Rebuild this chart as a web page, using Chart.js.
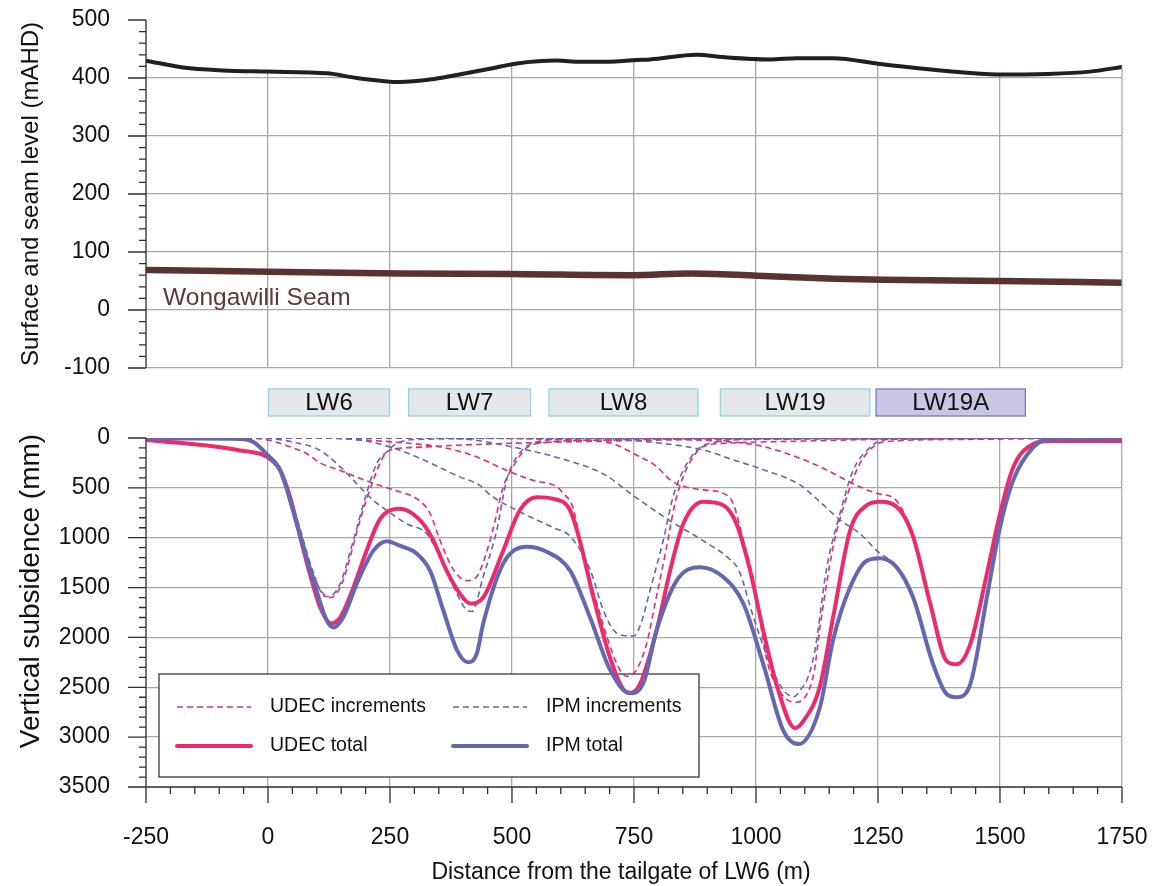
<!DOCTYPE html>
<html>
<head>
<meta charset="utf-8">
<title>Surface level and subsidence profile</title>
<script src="https://cdn.jsdelivr.net/npm/chart.js@4.4.1/dist/chart.umd.min.js"></script>
<style>
  html, body { margin: 0; padding: 0; background: #fff; }
  #wrap { position: relative; width: 1156px; height: 886px; }
  canvas { position: absolute; left: 0; }
  #levels { top: 0; }
  #subsidence { top: 378px; }
</style>
</head>
<body>
<div id="wrap">
  <canvas id="levels" width="1156" height="378"></canvas>
  <canvas id="subsidence" width="1156" height="508"></canvas>
</div>
<script>
// [distance from LW6 tailgate (m), level (mAHD)]
const surfaceLevel = [[-250,430],[-174,418],[-92,413],[0,411],[121,408],[182,400],[270,393],[338,398],[373,403],[455,416],[510,425],[592,430],[639,428],[694,428],[756,431],[783,432],[879,440],[932,436],[1029,432],[1084,434],[1158,434],[1254,424],[1391,412],[1494,406],[1596,407],[1684,411],[1750,419]];
const seamLevel = [[-250,69],[0,66],[270,63],[500,62],[746,60],[865,63],[1003,59],[1162,54],[1260,52],[1498,50],[1750,47]];

// [distance (m), vertical subsidence (mm)]
const udecTotal = [[-250,20],[-126,75],[-57,125],[0,195],[25,325],[45,590],[66,995],[86,1365],[107,1700],[130,1860],[148,1800],[175,1500],[202,1130],[230,810],[270,710],[318,860],[339,1030],[366,1330],[393,1560],[414,1660],[441,1600],[482,1130],[516,725],[551,595],[585,610],[619,725],[639,1030],[667,1600],[701,2205],[728,2520],[742,2555],[762,2470],[796,1935],[824,1330],[851,860],[892,640],[933,675],[960,860],[988,1330],[1015,1935],[1042,2470],[1080,2910],[1097,2840],[1131,2490],[1158,1800],[1193,925],[1227,675],[1254,640],[1295,725],[1322,990],[1357,1660],[1391,2240],[1411,2270],[1439,2070],[1473,1365],[1500,760],[1527,295],[1568,60],[1602,30],[1650,30],[1750,30]];
const ipmTotal = [[-250,5],[-150,5],[-57,10],[-30,40],[0,175],[25,325],[59,860],[93,1425],[120,1825],[134,1900],[154,1800],[182,1460],[216,1130],[243,1035],[270,1080],[305,1160],[332,1330],[359,1725],[387,2125],[410,2250],[428,2160],[441,1860],[482,1260],[530,1090],[571,1140],[619,1330],[660,1800],[701,2325],[742,2560],[769,2460],[796,1935],[838,1425],[885,1295],[933,1395],[974,1660],[1015,2270],[1056,2935],[1087,3070],[1131,2700],[1158,2025],[1193,1495],[1227,1230],[1254,1205],[1288,1295],[1322,1600],[1363,2270],[1391,2570],[1411,2600],[1439,2470],[1473,1600],[1500,895],[1527,425],[1568,95],[1602,10],[1750,5]];

const udecLW6 = [[-250,20],[-126,75],[-57,125],[0,190],[25,315],[45,560],[66,940],[86,1280],[107,1520],[127,1600],[148,1500],[161,1320],[189,820],[216,420],[236,190],[250,120],[300,95],[400,70],[600,40],[900,15],[1300,5],[1750,0]];
const udecLW7 = [[-250,0],[-50,0],[0,20],[40,80],[79,155],[107,250],[148,325],[216,455],[270,540],[305,610],[332,755],[352,1020],[380,1320],[408,1430],[428,1390],[441,1250],[461,920],[482,490],[502,290],[530,100],[560,50],[700,20],[1000,5],[1750,0]];
const udecLW8 = [[-250,0],[100,0],[180,15],[256,40],[352,90],[420,175],[489,325],[543,425],[592,490],[605,555],[625,700],[646,1190],[674,1660],[701,2090],[721,2325],[735,2390],[755,2325],[776,2060],[796,1590],[817,1090],[834,655],[851,385],[872,185],[892,85],[950,50],[1100,30],[1300,10],[1750,0]];
const udecLW19 = [[-250,0],[400,0],[550,10],[639,25],[701,50],[755,170],[796,285],[824,420],[851,485],[892,520],[933,555],[953,655],[974,1025],[995,1425],[1022,2220],[1042,2490],[1063,2620],[1083,2650],[1104,2570],[1119,2350],[1131,1900],[1158,1095],[1186,590],[1213,255],[1240,90],[1260,40],[1400,15],[1750,0]];
const udecLW19A = [[-250,0],[700,0],[800,5],[900,25],[1000,70],[1080,185],[1145,320],[1189,435],[1247,555],[1283,605],[1300,720],[1322,990],[1357,1660],[1391,2240],[1411,2270],[1439,2070],[1473,1365],[1500,760],[1527,295],[1568,60],[1602,30],[1750,30]];

const ipmLW6 = [[-250,5],[-150,5],[-57,10],[-30,40],[0,170],[25,310],[59,800],[93,1350],[117,1590],[133,1570],[148,1460],[175,1025],[202,555],[223,255],[243,140],[264,55],[300,15],[500,5],[1750,0]];
const ipmLW7 = [[-250,0],[-50,0],[0,5],[50,40],[107,125],[148,290],[216,625],[243,725],[284,860],[325,960],[352,1190],[380,1490],[407,1725],[418,1740],[441,1390],[469,920],[489,420],[510,190],[543,50],[600,15],[800,5],[1750,0]];
const ipmLW8 = [[-250,0],[100,0],[200,30],[256,100],[305,190],[393,390],[434,475],[455,570],[516,740],[585,900],[619,985],[660,1320],[687,1725],[708,1925],[728,1980],[750,1985],[765,1850],[783,1525],[810,1025],[830,590],[851,325],[878,125],[900,60],[1000,15],[1750,0]];
const ipmLW19 = [[-250,0],[300,0],[400,10],[530,120],[585,185],[687,360],[755,600],[824,830],[895,1040],[940,1190],[965,1330],[995,1800],[1029,2270],[1055,2520],[1077,2595],[1092,2520],[1105,2420],[1120,2150],[1145,1300],[1172,760],[1199,325],[1227,125],[1257,25],[1300,10],[1750,0]];
const ipmLW19A = [[-250,0],[600,0],[700,10],[800,50],[892,120],[960,230],[1010,310],[1090,470],[1131,640],[1172,820],[1213,960],[1250,1140],[1288,1290],[1322,1600],[1363,2270],[1391,2570],[1411,2600],[1439,2470],[1473,1600],[1500,895],[1527,425],[1568,95],[1602,10],[1750,5]];

// longwall panel extents (m)
const panelNames = ['LW6', 'LW7', 'LW8', 'LW19', 'LW19A'];
const panelStart = [1, 288, 576, 927, 1246];
const panelEnd = [249, 538, 881, 1233, 1552];

const legendLabels = ['UDEC increments', 'IPM increments', 'UDEC total', 'IPM total'];

const UDEC = '#ee2a6b';
const IPM = '#6467b1';
const GRID = '#a8a8a8';
const AXIS = '#2e2e2e';
const CLEAR = 'rgba(0,0,0,0)';
const TEXT = '#111';
const FONT = '"Liberation Sans", Arial, sans-serif';

Chart.defaults.font.family = FONT;
Chart.defaults.color = TEXT;

const pts = arr => arr.map(([x, y]) => ({x, y}));

// tick marks and axis lines, drawn last so the white fill above the surface can't hide them
const axisMarks = {
  id: 'axisMarks',
  afterDraw(chart, args, opts) {
    const {ctx, chartArea: ca, scales: {x, y}} = chart;
    ctx.save();
    ctx.strokeStyle = AXIS;
    ctx.lineWidth = 1.3;
    ctx.beginPath();
    ctx.moveTo(ca.left, ca.top);
    ctx.lineTo(ca.left, ca.bottom);
    for (let v = y.min; v <= y.max; v += opts.yMinor) {
      const py = y.getPixelForValue(v);
      const len = v % opts.yMajor === 0 ? 18 : 7;
      ctx.moveTo(ca.left - len, py);
      ctx.lineTo(ca.left, py);
    }
    if (opts.xMinor) {
      ctx.moveTo(ca.left, ca.bottom);
      ctx.lineTo(ca.right, ca.bottom);
      for (let v = x.min; v <= x.max; v += opts.xMinor) {
        const px = x.getPixelForValue(v);
        const len = v % opts.xMajor === 0 ? 16 : 7;
        ctx.moveTo(px, ca.bottom);
        ctx.lineTo(px, ca.bottom + len);
      }
    }
    ctx.stroke();
    ctx.restore();
  }
};

// right frame edge below the ground surface, plus the seam name
const levelsExtras = {
  id: 'levelsExtras',
  afterDatasetsDraw(chart) {
    const {ctx, chartArea: ca, scales: {x, y}} = chart;
    const last = surfaceLevel[surfaceLevel.length - 1];
    ctx.save();
    ctx.strokeStyle = GRID;
    ctx.lineWidth = 1.3;
    ctx.beginPath();
    ctx.moveTo(ca.right, y.getPixelForValue(last[1]));
    ctx.lineTo(ca.right, ca.bottom);
    ctx.stroke();
    ctx.font = '24.5px ' + FONT;
    ctx.fillStyle = '#5d3838';
    ctx.textBaseline = 'middle';
    ctx.fillText('Wongawilli Seam', x.getPixelForValue(-215), y.getPixelForValue(20));
    ctx.restore();
  }
};

// panel name boxes above the plot and the two axis titles
const frameText = {
  id: 'frameText',
  afterDraw(chart) {
    const {ctx, chartArea: ca, scales: {x}} = chart;
    const top = ca.top - 49, h = 27;
    ctx.save();
    ctx.font = '24px ' + FONT;
    ctx.textAlign = 'center';
    ctx.textBaseline = 'middle';
    ctx.lineWidth = 1.3;
    panelNames.forEach((name, i) => {
      const x0 = x.getPixelForValue(panelStart[i]);
      const x1 = x.getPixelForValue(panelEnd[i]);
      const active = name === 'LW19A';
      ctx.fillStyle = active ? '#c9c6e3' : '#e6e7e8';
      ctx.strokeStyle = active ? '#7c7abd' : '#8fd5e0';
      ctx.fillRect(x0, top, x1 - x0, h);
      ctx.strokeRect(x0, top, x1 - x0, h);
      ctx.fillStyle = TEXT;
      ctx.fillText(name, (x0 + x1) / 2, top + h / 2 + 1);
    });
    ctx.font = '23px ' + FONT;
    ctx.fillText('Distance from the tailgate of LW6 (m)', 621, ca.bottom + 86);
    ctx.translate(31, ca.top + 153);
    ctx.rotate(-Math.PI / 2);
    ctx.font = '28px ' + FONT;
    ctx.fillText('Vertical subsidence (mm)', 0, 0);
    ctx.restore();
  }
};

const legendBox = {
  id: 'legendBox',
  beforeDatasetsDraw(chart) {
    const {ctx, chartArea: ca} = chart;
    const x0 = ca.left + 13, y0 = ca.top + 236, w = 540, h = 103;
    ctx.save();
    ctx.fillStyle = '#fff';
    ctx.fillRect(x0, y0, w, h);
    ctx.strokeStyle = '#3a3a3a';
    ctx.lineWidth = 1.3;
    ctx.strokeRect(x0, y0, w, h);
    const items = [
      {color: UDEC, dash: [6, 4], width: 1.6, col: 0, row: 0},
      {color: IPM, dash: [6, 4], width: 1.6, col: 1, row: 0},
      {color: UDEC, dash: [], width: 4, col: 0, row: 1},
      {color: IPM, dash: [], width: 4, col: 1, row: 1}
    ];
    ctx.font = '19.5px ' + FONT;
    ctx.textBaseline = 'middle';
    items.forEach((it, i) => {
      const lx = x0 + 18 + it.col * 276;
      const ly = y0 + 33 + it.row * 39;
      ctx.beginPath();
      ctx.setLineDash(it.dash);
      ctx.strokeStyle = it.color;
      ctx.lineWidth = it.width;
      ctx.lineCap = it.dash.length ? 'butt' : 'round';
      ctx.moveTo(lx, ly);
      ctx.lineTo(lx + 74, ly);
      ctx.stroke();
      ctx.setLineDash([]);
      ctx.fillStyle = TEXT;
      ctx.fillText(legendLabels[i], lx + 93, ly);
    });
    ctx.restore();
  }
};

const xScale = (withTicks) => ({
  type: 'linear',
  min: -250,
  max: 1750,
  grid: {
    color: ctx => {
      const v = ctx.tick && ctx.tick.value;
      return v === -250 || (!withTicks && v === 1750) ? CLEAR : GRID;
    },
    lineWidth: 1.3,
    drawTicks: false
  },
  border: {display: false},
  ticks: {
    display: withTicks,
    stepSize: 250,
    autoSkip: false,
    maxRotation: 0,
    padding: 37,
    font: {size: 23},
    callback: v => String(v)
  },
  afterFit: s => {
    s.height = withTicks ? 99 : 0;
    s.paddingLeft = 0;
    s.paddingRight = 0;
  }
});

const yFit = s => {
  s.width = 146;
  s.paddingTop = 0;
  s.paddingBottom = 0;
};

const line = (data, color, width, dash) => ({
  data: pts(data),
  borderColor: color,
  borderWidth: width,
  borderDash: dash,
  pointRadius: 0,
  cubicInterpolationMode: 'monotone',
  fill: false
});

// surface and seam levels
new Chart(document.getElementById('levels'), {
  type: 'line',
  data: {
    datasets: [
      {...line(surfaceLevel, '#231f20', 4, []), fill: 'end', backgroundColor: '#ffffff'},
      line(seamLevel, '#5b3232', 6.5, [])
    ]
  },
  options: {
    responsive: false,
    animation: false,
    layout: {padding: {left: 0, right: 34, top: 20, bottom: 10}},
    plugins: {
      legend: {display: false},
      tooltip: {enabled: false},
      axisMarks: {yMajor: 100, yMinor: 20}
    },
    scales: {
      x: xScale(false),
      y: {
        min: -100,
        max: 500,
        grid: {
          color: ctx => ctx.tick && ctx.tick.value === 500 ? CLEAR : GRID,
          lineWidth: 1.3,
          drawTicks: false
        },
        border: {display: false},
        ticks: {stepSize: 100, padding: 36, font: {size: 23}, callback: v => String(v)},
        title: {
          display: true,
          text: 'Surface and seam level (mAHD)',
          font: {size: 24},
          padding: {top: 17, bottom: 0}
        },
        afterFit: yFit
      }
    }
  },
  plugins: [axisMarks, levelsExtras]
});

// vertical subsidence
new Chart(document.getElementById('subsidence'), {
  type: 'line',
  data: {
    datasets: [
      line(ipmTotal, IPM, 4, []),
      line(udecTotal, UDEC, 4, []),
      ...[ipmLW6, ipmLW7, ipmLW8, ipmLW19, ipmLW19A].map(d => line(d, IPM, 1.6, [6, 4])),
      ...[udecLW6, udecLW7, udecLW8, udecLW19, udecLW19A].map(d => line(d, UDEC, 1.6, [6, 4]))
    ]
  },
  options: {
    responsive: false,
    animation: false,
    layout: {padding: {left: 0, right: 34, top: 60, bottom: 0}},
    plugins: {
      legend: {display: false},
      tooltip: {enabled: false},
      axisMarks: {yMajor: 500, yMinor: 100, xMajor: 250, xMinor: 50}
    },
    scales: {
      x: xScale(true),
      y: {
        reverse: true,
        min: 0,
        max: 3500,
        grid: {
          color: ctx => ctx.tick && (ctx.tick.value === 0 || ctx.tick.value === 3500) ? CLEAR : GRID,
          lineWidth: 1.3,
          drawTicks: false
        },
        border: {display: false},
        ticks: {stepSize: 500, padding: 36, font: {size: 23}, callback: v => String(v)},
        afterFit: yFit
      }
    }
  },
  plugins: [axisMarks, frameText, legendBox]
});
</script>
</body>
</html>
